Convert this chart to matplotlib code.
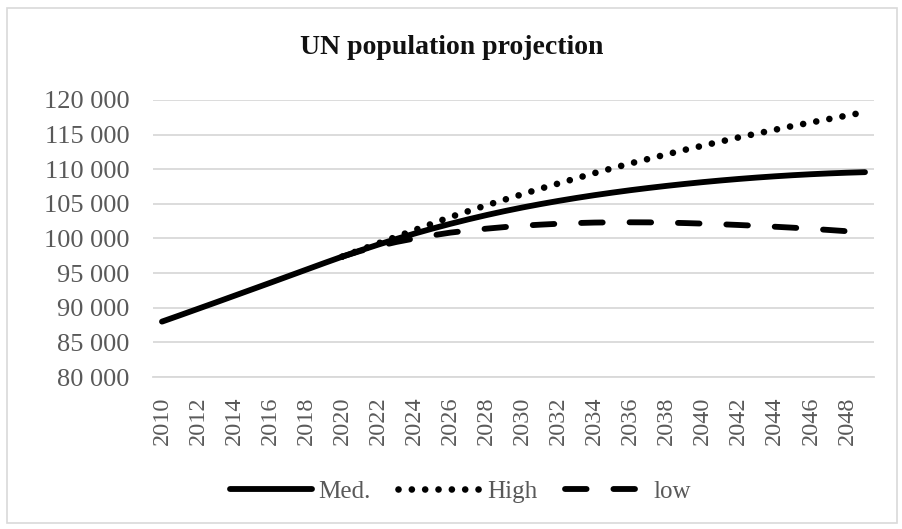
import numpy as np
import matplotlib
matplotlib.use("Agg")
import matplotlib.pyplot as plt
from matplotlib.ticker import FuncFormatter
from matplotlib.patches import Rectangle

years = list(range(2010, 2050))

# thousands of people
med = [88000, 88920, 89850, 90780, 91720, 92660, 93600, 94550, 95500, 96450,
       97380, 98270, 99120, 99930, 100700, 101430, 102120, 102770, 103380, 103950,
       104480, 104970, 105430, 105860, 106260, 106630, 106980, 107300, 107600, 107880,
       108140, 108380, 108600, 108800, 108980, 109140, 109280, 109400, 109500, 109580]

# variants only start in 2020
high = [np.nan] * 10 + [
       97380, 98350, 99300, 100250, 101200, 102150, 103100, 103950, 104800, 105600,
       106400, 107200, 107950, 108700, 109450, 110150, 110850, 111500, 112150, 112800,
       113400, 114000, 114600, 115150, 115700, 116250, 116750, 117250, 117750, 118250]

low = [np.nan] * 10 + [
       97380, 98200, 98900, 99500, 100000, 100450, 100850, 101150, 101420, 101650,
       101850, 102000, 102130, 102230, 102300, 102330, 102340, 102330, 102290, 102230,
       102150, 102060, 101950, 101830, 101700, 101560, 101400, 101230, 101050, 100850]

plt.rcParams['font.family'] = ['Liberation Serif', 'DejaVu Serif']
txt = '#595959'
grid = '#d9d9d9'

fig = plt.figure(figsize=(9.03, 5.29), dpi=100)
ax = fig.add_axes([0.1694, 0.2873, 0.7985, 0.5237])

# chart area border
fig.patches.append(Rectangle((7 / 903, 6 / 529), 890 / 903, 515 / 529,
                             transform=fig.transFigure, fill=False,
                             edgecolor=grid, linewidth=1.2))

x = np.arange(len(years))
ax.plot(x, med, color='black', lw=4.2, solid_capstyle='round', label='Med.')
ax.plot(x, high, color='black', lw=4.8, dashes=(0.001, 2.0),
        dash_capstyle='round', label='High')
ax.plot(x, low, color='black', lw=4.2, dashes=(3.7, 4.6),
        dash_capstyle='round', label='low')

ax.set_xlim(-0.5, len(years) - 0.5)
ax.set_ylim(80000, 120000)
ax.set_yticks(range(80000, 120001, 5000))
ax.yaxis.set_major_formatter(FuncFormatter(lambda v, p: f"{int(v):,}".replace(",", " ")))
ax.set_xticks(x[::2])
ax.set_xticklabels([str(y) for y in years[::2]], rotation=90)

ax.grid(axis='y', color=grid, lw=1.3)
ax.set_axisbelow(True)
for s in ['top', 'right', 'left']:
    ax.spines[s].set_visible(False)
ax.spines['bottom'].set_color(grid)
ax.spines['bottom'].set_linewidth(1.3)
ax.tick_params(axis='both', length=0, labelcolor=txt)
ax.tick_params(axis='y', pad=17, labelsize=19)
ax.tick_params(axis='x', pad=14, labelsize=17.5)

fig.text(0.5, 0.91, 'UN population projection', ha='center', va='center',
         fontsize=20, fontweight='bold', color='#111111')

fig.legend(loc='center', bbox_to_anchor=(0.51, 0.07), ncol=3, frameon=False,
           fontsize=18, labelcolor=txt, handlelength=3.3, handletextpad=0.25,
           columnspacing=1.1)

fig.savefig('out.png', dpi=100)
